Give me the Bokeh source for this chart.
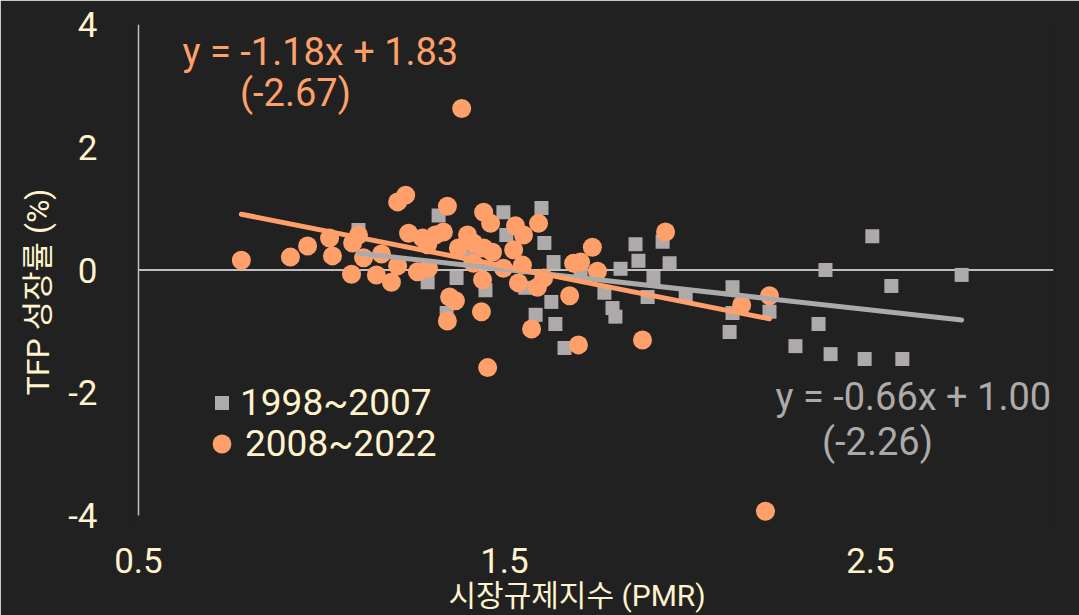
from bokeh.plotting import figure
from bokeh.models import Label, Legend, LegendItem, FixedTicker, Range1d
from bokeh.embed import file_html
from bokeh.resources import INLINE

# ---- data ----
pmr_9807 = [1.101, 1.320, 1.290, 1.369, 1.448, 1.342, 1.497, 1.505, 1.601, 1.609,
            1.634, 1.557, 1.628, 1.585, 1.639, 1.664, 1.858, 1.866, 1.817, 1.773,
            1.795, 1.803, 1.907, 1.891, 1.932, 1.951, 1.995, 2.123, 2.123, 2.115,
            2.224, 2.295, 2.358, 2.391, 2.377, 2.505, 2.557, 2.484, 2.587, 2.749,
            1.708, 1.407]
tfp_9807 = [0.65, 0.89, -0.20, -0.13, -0.33, -0.70, 0.94, 0.57, 1.01, 0.44,
            0.13, -0.29, -0.52, -0.73, -0.88, -1.27, 0.42, 0.15, 0.02, -0.37,
            -0.62, -0.76, -0.13, -0.44, 0.46, 0.11, -0.41, -0.28, -0.70, -1.01,
            -0.68, -1.24, -0.88, -1.37, 0.00, 0.55, -0.26, -1.45, -1.45, -0.08,
            -0.03, 0.20]

pmr_0822 = [0.781, 0.915, 0.962, 1.022, 1.030, 1.082, 1.085, 1.101, 1.115, 1.150,
            1.164, 1.191, 1.208, 1.208, 1.230, 1.238, 1.262, 1.292, 1.276, 1.290,
            1.311, 1.333, 1.344, 1.350, 1.366, 1.344, 1.383, 1.374, 1.399, 1.415,
            1.415, 1.443, 1.443, 1.462, 1.467, 1.440, 1.437, 1.454, 1.530, 1.552,
            1.593, 1.525, 1.549, 1.497, 1.538, 1.590, 1.607, 1.574, 1.678, 1.689,
            1.708, 1.740, 1.754, 1.702, 1.877, 1.940, 2.148, 2.224, 2.213]
tfp_0822 = [0.16, 0.21, 0.39, 0.52, 0.23, -0.07, 0.44, 0.57, 0.20, -0.08,
            0.26, -0.20, 0.07, 1.11, 1.22, 0.60, -0.03, 0.03, 0.52, 0.41,
            0.57, 0.62, 1.04, -0.44, -0.50, -0.83, 2.63, 0.36, 0.57, 0.44,
            0.11, 0.36, 0.94, 0.76, 0.29, -0.16, -0.68, -1.59, 0.72, 0.57,
            0.76, 0.33, 0.08, 0.03, -0.21, -0.28, -0.13, -0.96, -0.42, 0.11,
            0.13, 0.37, -0.02, -1.22, -1.14, 0.62, -0.57, -0.42, -3.93]

series_names = ["1998~2007", "2008~2022"]
trend_9807 = (-0.66, 1.00)
trend_0822 = (-1.18, 1.83)
eq_9807 = ["y = -0.66x + 1.00", "(-2.26)"]
eq_0822 = ["y = -1.18x + 1.83", "(-2.67)"]

x_ticks = [0.5, 1.5, 2.5]
x_tick_labels = ["0.5", "1.5", "2.5"]
x_axis_max = 3.0
y_ticks = [-4, -2, 0, 2, 4]
y_tick_labels = ["-4", "-2", "0", "2", "4"]
x_title = "시장규제지수 (PMR)"
y_title = "TFP 성장률 (%)"

# ---- styles ----
BG = "#212121"
CREAM = "#FFF2CC"
ORANGE = "#FFA06B"
GREY = "#AEAAAA"
AXIS = "#BFBFBF"
FONT = "Roboto, 'Noto Sans CJK KR', sans-serif"
PAD = "\u00a0" * 4   # shifts centred axis titles as in the reference

# a little room beyond the axes so edge markers are not clipped
x_lo = x_ticks[0] - 8 / 366.0
y_lo = y_ticks[0] - 12 / 61.5

p = figure(width=1079, height=615,
           x_range=Range1d(x_lo, x_axis_max), y_range=Range1d(y_lo, y_ticks[-1]),
           output_backend="svg", toolbar_location=None,
           min_border_left=130, min_border_right=26,
           min_border_top=24, min_border_bottom=87,
           background_fill_color=BG, border_fill_color=BG,
           outline_line_color=BG, outline_line_width=2)
p.grid.visible = False

# x axis (labels only; the axis line is drawn at y = 0 below)
xa = p.xaxis[0]
xa.ticker = FixedTicker(ticks=x_ticks)
xa.major_label_overrides = {t: l for t, l in zip(x_ticks, x_tick_labels)}
xa.axis_line_color = None
xa.major_tick_line_color = None
xa.minor_tick_line_color = None
xa.major_tick_out = 0
xa.major_label_standoff = 20
xa.major_label_text_font = FONT
xa.major_label_text_font_size = "35px"
xa.major_label_text_color = CREAM
xa.axis_label = x_title + PAD
xa.axis_label_text_font = FONT
xa.axis_label_text_font_style = "normal"
xa.axis_label_text_font_size = "30px"
xa.axis_label_text_color = CREAM
xa.axis_label_standoff = 2

# y axis (labels only; the axis line is drawn at x = 0.5 below)
ya = p.yaxis[0]
ya.ticker = FixedTicker(ticks=y_ticks)
ya.major_label_overrides = {t: l for t, l in zip(y_ticks, y_tick_labels)}
ya.axis_line_color = None
ya.major_tick_line_color = None
ya.minor_tick_line_color = None
ya.major_tick_out = 0
ya.major_label_standoff = 33
ya.major_label_text_font = FONT
ya.major_label_text_font_size = "35px"
ya.major_label_text_color = CREAM
ya.axis_label = y_title + PAD
ya.axis_label_text_font = FONT
ya.axis_label_text_font_style = "normal"
ya.axis_label_text_font_size = "32px"
ya.axis_label_text_color = CREAM
ya.axis_label_standoff = 8

# axis lines: vertical at the first x tick, horizontal at y = 0
p.segment(x0=[x_ticks[0]], y0=[y_ticks[0]], x1=[x_ticks[0]], y1=[y_ticks[-1]],
          line_color=AXIS, line_width=1.5)
p.segment(x0=[x_ticks[0]], y0=[0], x1=[x_axis_max], y1=[0],
          line_color=AXIS, line_width=2)

# points
sq = p.scatter(pmr_9807, tfp_9807, marker="square", size=14,
               fill_color=GREY, line_color=None)
ci = p.scatter(pmr_0822, tfp_0822, marker="circle", size=19,
               fill_color=ORANGE, line_color=None)

# trend lines
xa_end = [min(pmr_9807), max(pmr_9807)]
p.line(xa_end, [trend_9807[0] * v + trend_9807[1] for v in xa_end],
       line_color=GREY, line_width=5, line_cap="round")
xb_end = [min(pmr_0822), max(pmr_0822)]
p.line(xb_end, [trend_0822[0] * v + trend_0822[1] for v in xb_end],
       line_color=ORANGE, line_width=5, line_cap="round")

# equation labels
def lab(x, y, t, c):
    p.add_layout(Label(x=x, y=y, text=t, text_align="center",
                       text_baseline="middle", text_font=FONT,
                       text_font_size="38px", text_color=c))

lab(0.997, 3.56, eq_0822[0], ORANGE)
lab(0.929, 2.88, eq_0822[1], ORANGE)
lab(2.617, -2.065, eq_9807[0], GREY)
lab(2.519, -2.81, eq_9807[1], GREY)

# legends
common = dict(padding=0, margin=0, spacing=0, background_fill_alpha=0,
              border_line_alpha=0, label_text_font=FONT,
              label_text_font_size="37px", label_text_color=CREAM)
leg1 = Legend(items=[LegendItem(label=series_names[0], renderers=[sq])],
              location=(74, 103), glyph_width=35, glyph_height=43,
              label_height=43, label_standoff=1, **common)
leg2 = Legend(items=[LegendItem(label=series_names[1], renderers=[ci])],
              location=(68, 60), glyph_width=47, glyph_height=47,
              label_height=47, label_standoff=-4, **common)
p.add_layout(leg1)
p.add_layout(leg2)

html = file_html(p, INLINE)
html = html.replace("<body>", '<body style="background-color:#212121;margin:0;">', 1)
open("out.html", "w").write(html)
